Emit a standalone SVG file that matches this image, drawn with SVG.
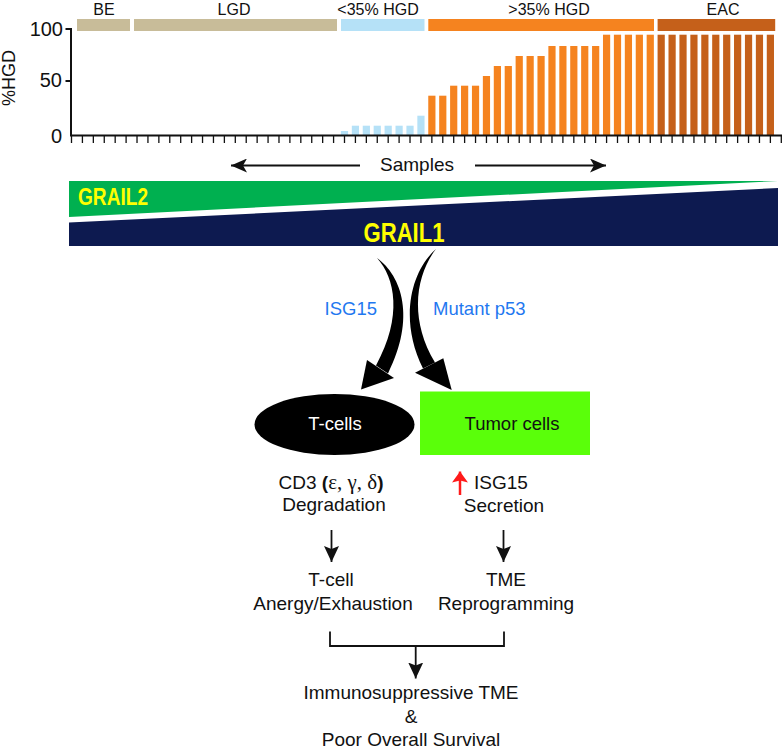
<svg xmlns="http://www.w3.org/2000/svg" width="784" height="749" viewBox="0 0 784 749">
<defs>
<style>
text{font-family:"Liberation Sans",Arial,Helvetica,sans-serif;fill:#111}
.ax{stroke:#111;stroke-width:2;fill:none}
.tk{stroke:#111;stroke-width:1.3;fill:none}
.tan{fill:#c8bc99}
.lb{fill:#b5e1f7}
.or{fill:#f5831f}
.ea{fill:#c5601a}
.cat{font-size:16px;text-anchor:middle}
.yl{font-size:20px;text-anchor:end}
.mid{font-size:19px;text-anchor:middle}
.blue{font-size:18.5px;fill:#1f78f0}
.grail{font-weight:bold;fill:#ffff00}
.con{stroke:#111;stroke-width:1.8;fill:none}
</style>
<marker id="ahS" viewBox="0 0 16 14" refX="16" refY="7" markerWidth="16" markerHeight="14" orient="auto" markerUnits="userSpaceOnUse"><path d="M0,0 L16,7 L0,14 L4,7 z" fill="#111"/></marker>
<marker id="ahD" viewBox="0 0 16 15" refX="16" refY="7.5" markerWidth="16" markerHeight="15" orient="auto" markerUnits="userSpaceOnUse"><path d="M0,0 L16,7.5 L0,15 L3,7.5 z" fill="#111"/></marker>
<marker id="ahR" viewBox="0 0 11 16" refX="11" refY="8" markerWidth="11" markerHeight="16" orient="auto" markerUnits="userSpaceOnUse"><path d="M0,0 L11,8 L0,16 L2,8 z" fill="#ff1a1a"/></marker>
</defs>
<rect width="784" height="749" fill="#fff"/>

<g id="chart">
<text class="cat" x="104" y="15">BE</text>
<text class="cat" x="234" y="15">LGD</text>
<text class="cat" x="378" y="15">&lt;35% HGD</text>
<text class="cat" x="549" y="15">&gt;35% HGD</text>
<text class="cat" x="723" y="15">EAC</text>
<rect class="tan" x="77" y="19" width="53" height="12"/>
<rect class="tan" x="134" y="19" width="203" height="12"/>
<rect class="lb" x="341" y="19" width="83.5" height="12"/>
<rect class="or" x="428.3" y="19" width="225.7" height="12"/>
<rect class="ea" x="657.6" y="19" width="117.6" height="12"/>
<text transform="translate(15,78) rotate(-90)" style="font-size:18px;text-anchor:middle">%HGD</text>
<text class="yl" x="63" y="36">100</text>
<text class="yl" x="62" y="87">50</text>
<text class="yl" x="62" y="143">0</text>
<g class="lb">
<rect x="340.9" y="131" width="7.2" height="4"/>
<rect x="351.82" y="125.7" width="7.2" height="9.3"/>
<rect x="362.74" y="125.7" width="7.2" height="9.3"/>
<rect x="373.66" y="125.7" width="7.2" height="9.3"/>
<rect x="384.58" y="125.7" width="7.2" height="9.3"/>
<rect x="395.5" y="125.7" width="7.2" height="9.3"/>
<rect x="406.42" y="125.7" width="7.2" height="9.3"/>
<rect x="417.34" y="115.7" width="7.2" height="19.3"/>
</g>
<g class="or">
<rect x="428.26" y="95.7" width="7.2" height="39.3"/>
<rect x="439.18" y="95.7" width="7.2" height="39.3"/>
<rect x="450.1" y="85.7" width="7.2" height="49.3"/>
<rect x="461.02" y="85.7" width="7.2" height="49.3"/>
<rect x="471.94" y="85.7" width="7.2" height="49.3"/>
<rect x="482.86" y="76" width="7.2" height="59"/>
<rect x="493.78" y="66" width="7.2" height="69"/>
<rect x="504.7" y="66" width="7.2" height="69"/>
<rect x="515.62" y="56" width="7.2" height="79"/>
<rect x="526.54" y="56" width="7.2" height="79"/>
<rect x="537.46" y="56" width="7.2" height="79"/>
<rect x="548.38" y="46" width="7.2" height="89"/>
<rect x="559.3" y="46" width="7.2" height="89"/>
<rect x="570.22" y="46" width="7.2" height="89"/>
<rect x="581.14" y="46" width="7.2" height="89"/>
<rect x="592.06" y="46" width="7.2" height="89"/>
<rect x="602.98" y="34.7" width="7.2" height="100.3"/>
<rect x="613.9" y="34.7" width="7.2" height="100.3"/>
<rect x="624.82" y="34.7" width="7.2" height="100.3"/>
<rect x="635.74" y="34.7" width="7.2" height="100.3"/>
<rect x="646.66" y="34.7" width="7.2" height="100.3"/>
</g>
<g class="ea">
<rect x="657.58" y="34.7" width="7.2" height="100.3"/>
<rect x="668.5" y="34.7" width="7.2" height="100.3"/>
<rect x="679.42" y="34.7" width="7.2" height="100.3"/>
<rect x="690.34" y="34.7" width="7.2" height="100.3"/>
<rect x="701.26" y="34.7" width="7.2" height="100.3"/>
<rect x="712.18" y="34.7" width="7.2" height="100.3"/>
<rect x="723.1" y="34.7" width="7.2" height="100.3"/>
<rect x="734.02" y="34.7" width="7.2" height="100.3"/>
<rect x="744.94" y="34.7" width="7.2" height="100.3"/>
<rect x="755.86" y="34.7" width="7.2" height="100.3"/>
<rect x="766.78" y="34.7" width="7.2" height="100.3"/>
</g>
<path class="ax" d="M71,28 V136 M70,135.5 H782 M65.5,29 H71 M65.5,81 H71"/>
<path class="tk" d="M71.5,135V143M82.42,135V143M93.34,135V143M104.26,135V143M115.18,135V143M126.1,135V143M137.02,135V143M147.94,135V143M158.86,135V143M169.78,135V143M180.7,135V143M191.62,135V143M202.54,135V143M213.46,135V143M224.38,135V143M235.3,135V143M246.22,135V143M257.14,135V143M268.06,135V143M278.98,135V143M289.9,135V143M300.82,135V143M311.74,135V143M322.66,135V143M333.58,135V143M344.5,135V143M355.42,135V143M366.34,135V143M377.26,135V143M388.18,135V143M399.1,135V143M410.02,135V143M420.94,135V143M431.86,135V143M442.78,135V143M453.7,135V143M464.62,135V143M475.54,135V143M486.46,135V143M497.38,135V143M508.3,135V143M519.22,135V143M530.14,135V143M541.06,135V143M551.98,135V143M562.9,135V143M573.82,135V143M584.74,135V143M595.66,135V143M606.58,135V143M617.5,135V143M628.42,135V143M639.34,135V143M650.26,135V143M661.18,135V143M672.1,135V143M683.02,135V143M693.94,135V143M704.86,135V143M715.78,135V143M726.7,135V143M737.62,135V143M748.54,135V143M759.46,135V143M770.38,135V143M781.3,135V143"/>
</g>

<g id="samples">
<text x="417" y="171" style="font-size:19px;text-anchor:middle">Samples</text>
</g>

<g id="grail2">
<polygon points="69,181 778,181 69,217" fill="#00b050"/>
<text class="grail" x="78" y="205" style="font-size:23px" textLength="70" lengthAdjust="spacingAndGlyphs">GRAIL2</text>
</g>
<g id="grail1">
<polygon points="69,222.5 778,188 778,246 69,246" fill="#0d1a50"/>
<text class="grail" x="404" y="241.5" style="font-size:27px;text-anchor:middle" textLength="81" lengthAdjust="spacingAndGlyphs">GRAIL1</text>
</g>

<g id="label-isg15"><text class="blue" x="377" y="315" text-anchor="end">ISG15</text></g>
<g id="label-p53"><text class="blue" x="433" y="315">Mutant p53</text></g>

<g id="t-cells">
<ellipse cx="334.5" cy="424.5" rx="80" ry="30.5" fill="#000"/>
<text x="335" y="430" style="font-size:18.5px;text-anchor:middle;fill:#fff">T-cells</text>
</g>
<g id="tumor-cells">
<rect x="420" y="391.5" width="170" height="63.5" fill="#5aff0a"/>
<text x="512" y="430" style="font-size:18.5px;text-anchor:middle">Tumor cells</text>
</g>

<g id="cd3">
<text class="mid" x="331" y="489">CD3 <tspan font-weight="bold">(</tspan><tspan font-family="'Liberation Serif',serif" font-size="21">ε, γ, δ</tspan><tspan font-weight="bold">)</tspan></text>
<text class="mid" x="334" y="511">Degradation</text>
</g>
<g id="isg15-secretion">
<text class="mid" x="501" y="489">ISG15</text>
<text class="mid" x="504" y="512">Secretion</text>
</g>
<g id="anergy">
<text class="mid" x="331" y="586">T-cell</text>
<text class="mid" x="333" y="610">Anergy/Exhaustion</text>
</g>
<g id="tme">
<text class="mid" x="506" y="586">TME</text>
<text class="mid" x="506" y="610">Reprogramming</text>
</g>
<g id="outcome">
<text class="mid" x="411" y="699">Immunosuppressive TME</text>
<text class="mid" x="411" y="722.5">&amp;</text>
<text class="mid" x="411" y="746">Poor Overall Survival</text>
</g>

<g id="connectors">
<line class="con" x1="360" y1="165.5" x2="231" y2="165.5" marker-end="url(#ahS)"/>
<line class="con" x1="475" y1="165.5" x2="606" y2="165.5" marker-end="url(#ahS)"/>
<path d="M377,258 C402,276 416,318 388,373.5 L376,365.5 C403,316 395,278 377,258 Z" fill="#000"/>
<path d="M367,360 L394,378 L361,389.5 Z" fill="#000"/>
<path d="M436,249 C412,270 398,318 423,368.5 L435,362.5 C407,316 418,272 436,249 Z" fill="#000"/>
<path d="M415,372.7 L443.3,358.3 L451.7,390 Z" fill="#000"/>
<line x1="460" y1="495" x2="460" y2="471.5" stroke="#ff1a1a" stroke-width="2.5" marker-end="url(#ahR)"/>
<line class="con" x1="331.5" y1="530" x2="331.5" y2="562" marker-end="url(#ahD)"/>
<line class="con" x1="503.5" y1="530" x2="503.5" y2="562" marker-end="url(#ahD)"/>
<path class="con" d="M330,631.5 V646 H504 V631.5"/>
<line class="con" x1="415.7" y1="646" x2="415.7" y2="678.5" marker-end="url(#ahD)"/>
</g>
</svg>
